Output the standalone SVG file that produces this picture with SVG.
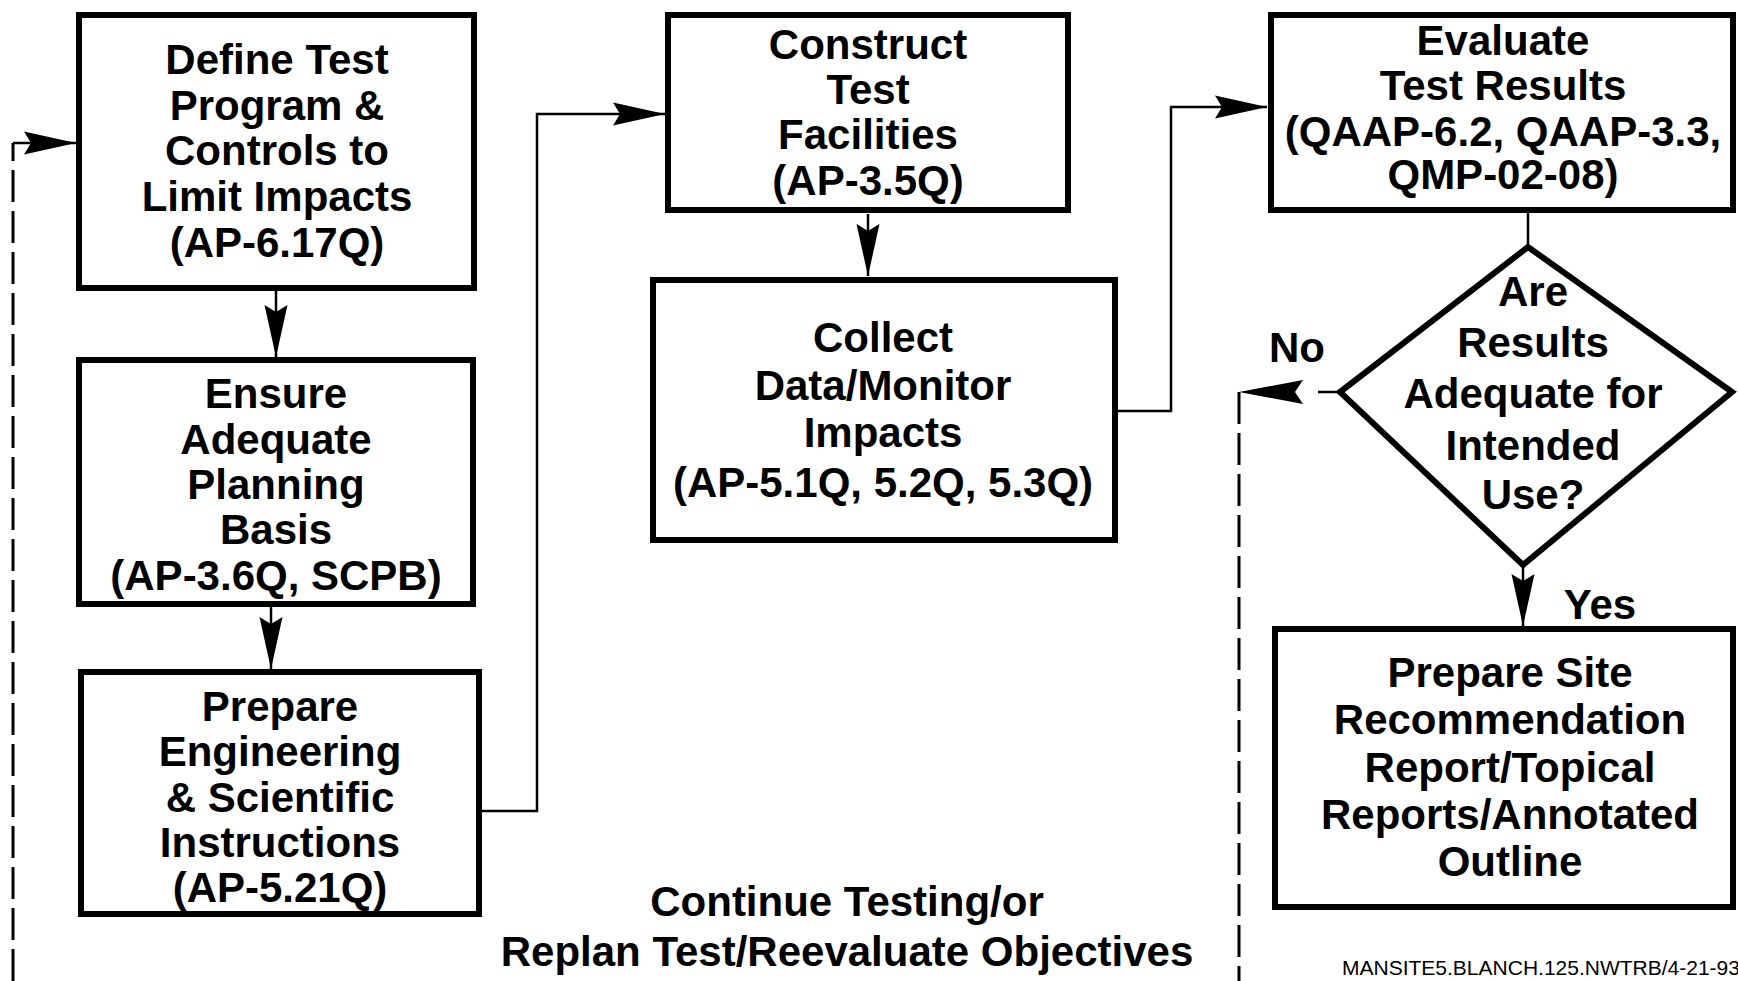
<svg xmlns="http://www.w3.org/2000/svg" width="1738" height="981" viewBox="0 0 1738 981">
<style>
.box{fill:#fff;stroke:#000;stroke-width:6}
.t{font-family:"Liberation Sans",Arial,Helvetica,sans-serif;font-weight:bold;font-size:42px;fill:#000;text-anchor:middle}
.c{fill:none;stroke:#000;stroke-width:2.5}
.d{fill:none;stroke:#000;stroke-width:3;stroke-dasharray:32 9}
.small{font-family:"Liberation Sans",Arial,Helvetica,sans-serif;font-size:21px;fill:#000}
</style>
<defs>
<marker id="ah" markerUnits="userSpaceOnUse" viewBox="-56 -14 60 28" refX="0" refY="0" markerWidth="60" markerHeight="28" orient="auto">
<path d="M0,0 L-52,-11.5 L-45,0 L-52,11.5 Z" fill="#000"/>
</marker>
</defs>
<rect width="1738" height="981" fill="#fff"/>
<g id="connectors">
<line class="c" x1="276" y1="291" x2="276" y2="357" marker-end="url(#ah)"/>
<line class="c" x1="271" y1="607" x2="271" y2="669" marker-end="url(#ah)"/>
<path class="c" d="M482,811 H537 V114 H665" marker-end="url(#ah)"/>
<line class="c" x1="868" y1="214" x2="868" y2="276" marker-end="url(#ah)"/>
<path class="c" d="M1118,411 H1171 V107 H1267" marker-end="url(#ah)"/>
<line class="c" x1="1528" y1="213" x2="1528" y2="247"/>
<line class="c" x1="1523" y1="566" x2="1523" y2="626" marker-end="url(#ah)"/>
<line class="c" x1="1340" y1="392" x2="1318" y2="392" stroke-width="3"/>
<path d="M1239,392 L1303,380 L1295,392 L1303,404 Z" fill="#000"/>
<path class="d" d="M1239,392 V981"/>
<path class="d" d="M13,981 V143"/>
<path class="c" d="M13,143 H76" stroke-width="3" marker-end="url(#ah)"/>
</g>
<g id="define">
<rect class="box" x="79" y="15" width="395" height="273"/>
<text class="t" x="277" y="74">Define Test</text>
<text class="t" x="277" y="120">Program &amp;</text>
<text class="t" x="277" y="165">Controls to</text>
<text class="t" x="277" y="211">Limit Impacts</text>
<text class="t" x="277" y="257">(AP-6.17Q)</text>
</g>
<g id="ensure">
<rect class="box" x="79" y="360" width="394" height="244"/>
<text class="t" x="276" y="408">Ensure</text>
<text class="t" x="276" y="454">Adequate</text>
<text class="t" x="276" y="499">Planning</text>
<text class="t" x="276" y="544">Basis</text>
<text class="t" x="276" y="590">(AP-3.6Q, SCPB)</text>
</g>
<g id="prepare-eng">
<rect class="box" x="81" y="672" width="398" height="242"/>
<text class="t" x="280" y="721">Prepare</text>
<text class="t" x="280" y="766">Engineering</text>
<text class="t" x="280" y="812">&amp; Scientific</text>
<text class="t" x="280" y="857">Instructions</text>
<text class="t" x="280" y="902">(AP-5.21Q)</text>
</g>
<g id="construct">
<rect class="box" x="668" y="15" width="400" height="195"/>
<text class="t" x="868" y="59">Construct</text>
<text class="t" x="868" y="104">Test</text>
<text class="t" x="868" y="149">Facilities</text>
<text class="t" x="868" y="195">(AP-3.5Q)</text>
</g>
<g id="collect">
<rect class="box" x="653" y="280" width="462" height="260"/>
<text class="t" x="883" y="352">Collect</text>
<text class="t" x="883" y="400">Data/Monitor</text>
<text class="t" x="883" y="447">Impacts</text>
<text class="t" x="883" y="497">(AP-5.1Q, 5.2Q, 5.3Q)</text>
</g>
<g id="evaluate">
<rect class="box" x="1271" y="15" width="462" height="195"/>
<text class="t" x="1503" y="55">Evaluate</text>
<text class="t" x="1503" y="100">Test Results</text>
<text class="t" x="1503" y="146">(QAAP-6.2, QAAP-3.3,</text>
<text class="t" x="1503" y="189">QMP-02-08)</text>
</g>
<g id="decision">
<polygon class="box" points="1528,247 1732,392 1523,565 1340,392"/>
<text class="t" x="1533" y="306">Are</text>
<text class="t" x="1533" y="357">Results</text>
<text class="t" x="1533" y="408">Adequate for</text>
<text class="t" x="1533" y="460">Intended</text>
<text class="t" x="1533" y="509">Use?</text>
<text class="t" x="1297" y="362">No</text>
<text class="t" x="1600" y="619">Yes</text>
</g>
<g id="prepare-site">
<rect class="box" x="1275" y="629" width="458" height="278"/>
<text class="t" x="1510" y="687">Prepare Site</text>
<text class="t" x="1510" y="734">Recommendation</text>
<text class="t" x="1510" y="782">Report/Topical</text>
<text class="t" x="1510" y="829">Reports/Annotated</text>
<text class="t" x="1510" y="876">Outline</text>
</g>
<g id="loop-label">
<text class="t" x="847" y="916">Continue Testing/or</text>
<text class="t" x="847" y="966">Replan Test/Reevaluate Objectives</text>
</g>
<text class="small" x="1342" y="975">MANSITE5.BLANCH.125.NWTRB/4-21-93</text>
</svg>
